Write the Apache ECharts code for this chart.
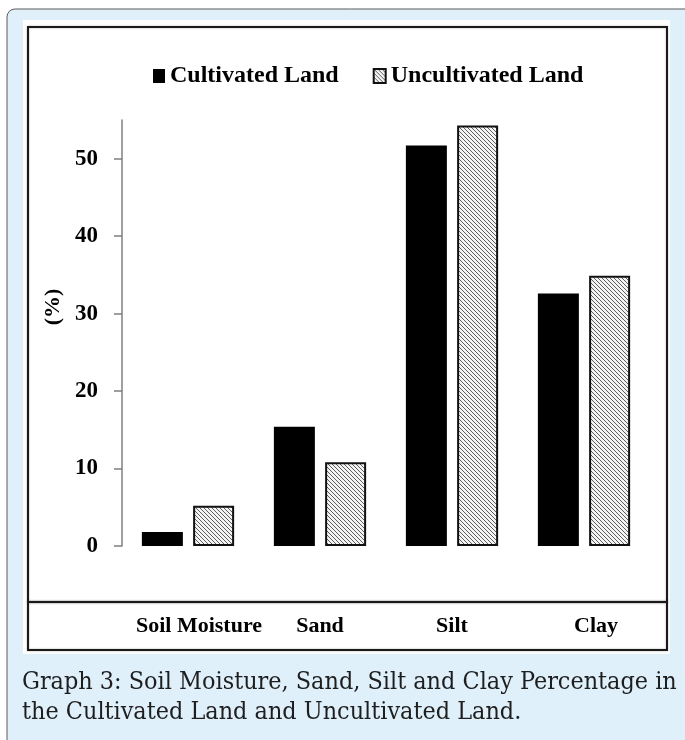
<!DOCTYPE html>
<html><head><meta charset="utf-8">
<script src="https://cdn.jsdelivr.net/npm/echarts@6/dist/echarts.min.js"></script>
<style>html,body{margin:0;padding:0;background:#fff}#c{width:685px;height:740px}</style>
</head><body><div id="c"></div>
<script>
const categories = ['Soil Moisture', 'Sand', 'Silt', 'Clay'];
const cultivated = [1.8, 15.4, 51.7, 32.6];
const uncultivated = [5.2, 10.8, 54.3, 34.9];
const yTicks = [0, 10, 20, 30, 40, 50];
const seriesNames = ['Cultivated Land', 'Uncultivated Land'];
const yName = '(%)';
const captionLines = [
  'Graph 3: Soil Moisture, Sand, Silt and Clay Percentage in',
  'the Cultivated Land and Uncultivated Land.'
];

// hatch pattern
const pc = document.createElement('canvas');
pc.width = 4; pc.height = 4;
const g = pc.getContext('2d');
g.fillStyle = '#f4f4f4'; g.fillRect(0, 0, 4, 4);
g.strokeStyle = '#5e5e5e'; g.lineWidth = 1;
g.beginPath();
g.moveTo(-1, -1); g.lineTo(5, 5);
g.moveTo(-1, 3); g.lineTo(1, 5);
g.moveTo(3, -1); g.lineTo(5, 1);
g.stroke();

// caption font size so that first line spans its width
const capFont = '"DejaVu Serif Condensed", "DejaVu Serif", serif';
const mc = document.createElement('canvas').getContext('2d');
mc.font = '100px ' + capFont;
const capSize = Math.min(26, 100 * 655 / mc.measureText(captionLines[0]).width);

const serif = '"Liberation Serif", "Times New Roman", serif';

const chart = echarts.init(document.getElementById('c'), null, {renderer: 'canvas'});
chart.setOption({
  animation: false,
  backgroundColor: '#ffffff',
  graphic: [
    {type: 'rect', z: -10, shape: {x: 7, y: 9, width: 700, height: 760, r: 8},
     style: {fill: '#dff0fb', stroke: '#5a5a5a', lineWidth: 1}},
    {type: 'rect', z: -9, shape: {x: 23, y: 20, width: 647, height: 634},
     style: {fill: '#ffffff'}},
    {type: 'rect', z: -8, shape: {x: 28, y: 27, width: 639, height: 575},
     style: {fill: 'none', stroke: '#1a1a1a', lineWidth: 2, shadowBlur: 2, shadowColor: 'rgba(0,0,0,0.35)'}},
    {type: 'rect', z: -8, shape: {x: 28, y: 602, width: 639, height: 48},
     style: {fill: 'none', stroke: '#1a1a1a', lineWidth: 2, shadowBlur: 2, shadowColor: 'rgba(0,0,0,0.35)'}},
    {type: 'text', z: 5, x: 22, y: 683,
     style: {text: captionLines[0], font: capSize.toFixed(2) + 'px ' + capFont, fill: '#1e1e1e', verticalAlign: 'middle', align: 'left'}},
    {type: 'text', z: 5, x: 22, y: 713,
     style: {text: captionLines[1], font: capSize.toFixed(2) + 'px ' + capFont, fill: '#1e1e1e', verticalAlign: 'middle', align: 'left'}}
  ],
  legend: {
    left: 148, top: 59,
    itemWidth: 12, itemHeight: 14, itemGap: 34,
    icon: 'rect',
    textStyle: {fontFamily: serif, fontWeight: 'bold', fontSize: 24, color: '#000'},
    data: seriesNames
  },
  grid: {left: 122, right: 35, top: 120, bottom: 194, containLabel: false},
  xAxis: {
    type: 'category', data: categories,
    axisLine: {show: false}, axisTick: {show: false},
    axisLabel: {
      margin: 69, interval: 0, color: '#000',
      fontFamily: serif, fontWeight: 'bold', fontSize: 22,
      formatter: function (v, i) { return (i === 0 ? '{a|' : i === 3 ? '{b|' : '{n|') + v + '}'; },
      rich: {
        a: {fontFamily: serif, fontWeight: 'bold', fontSize: 22, color: '#000', padding: [0, 0, 0, 22]},
        b: {fontFamily: serif, fontWeight: 'bold', fontSize: 22, color: '#000', padding: [0, 0, 0, 24]},
        n: {fontFamily: serif, fontWeight: 'bold', fontSize: 22, color: '#000'}
      }
    }
  },
  yAxis: {
    type: 'value', min: 0, max: 55,
    name: yName, nameLocation: 'middle', nameRotate: 90, nameGap: 52,
    nameTextStyle: {fontFamily: serif, fontWeight: 'bold', fontSize: 22, color: '#000', padding: [0, 0, 0, 52]},
    axisLine: {show: true, lineStyle: {color: '#7f7f7f', width: 1.5}},
    axisTick: {show: true, length: 8, customValues: yTicks, lineStyle: {color: '#7f7f7f', width: 1.5}},
    axisLabel: {customValues: yTicks, margin: 24, color: '#000', fontFamily: serif, fontWeight: 'bold', fontSize: 23},
    splitLine: {show: false}
  },
  series: [
    {name: seriesNames[0], type: 'bar', data: cultivated, barWidth: 41, barGap: '25%',
     itemStyle: {color: '#000000', borderColor: '#000', borderWidth: 0}},
    {name: seriesNames[1], type: 'bar', data: uncultivated, barWidth: 41,
     itemStyle: {color: {image: pc, repeat: 'repeat'}, borderColor: '#111', borderWidth: 2}}
  ]
});
</script></body></html>
